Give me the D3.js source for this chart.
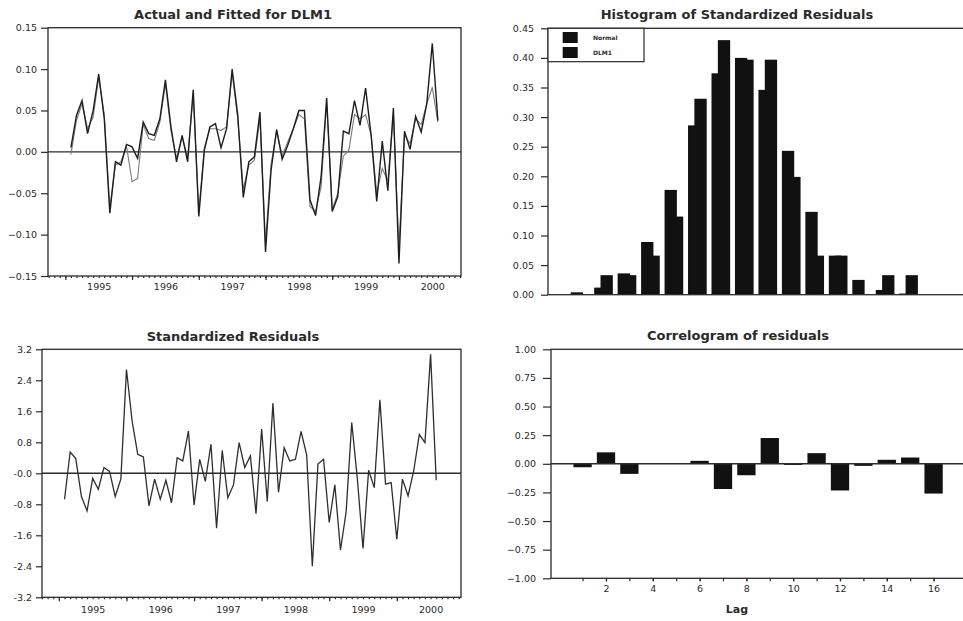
<!DOCTYPE html>
<html>
<head>
<meta charset="utf-8">
<script src="https://cdn.jsdelivr.net/npm/d3@7"></script>
<style>
  html, body { margin: 0; padding: 0; background: #fff; }
  svg { display: block; font-family: "DejaVu Sans", sans-serif; }
</style>
</head>
<body>
<svg id="chart" width="963" height="621"></svg>
<script>
// ---- Monthly series, first observation February 1995 ----
const firstObs = 1995 + 1 / 12;

const actual = [
  0.005, 0.044, 0.062, 0.022, 0.050, 0.094, 0.040, -0.074, -0.012, -0.016,
  0.009, 0.006, -0.008, 0.036, 0.022, 0.020, 0.040, 0.087, 0.030, -0.012,
  0.020, -0.012, 0.075, -0.078, 0.002, 0.030, 0.034, 0.005, 0.028, 0.100,
  0.045, -0.055, -0.012, -0.006, 0.048, -0.121, -0.022, 0.027, -0.009, 0.008,
  0.028, 0.050, 0.050, -0.058, -0.077, -0.030, 0.065, -0.072, -0.054, 0.025,
  0.022, 0.062, 0.032, 0.077, 0.020, -0.060, 0.013, -0.047, 0.053, -0.135,
  0.025, 0.003, 0.043, 0.024, 0.058, 0.131, 0.038
];

const fitted = [
  -0.003, 0.038, 0.058, 0.028, 0.042, 0.090, 0.045, -0.068, -0.016, -0.012,
  0.007, -0.036, -0.032, 0.033, 0.016, 0.014, 0.036, 0.082, 0.025, -0.008,
  0.018, -0.006, 0.070, -0.072, 0.005, 0.028, 0.028, 0.026, 0.030, 0.095,
  0.040, -0.045, -0.016, -0.010, 0.040, -0.110, -0.015, 0.025, -0.005, 0.012,
  0.028, 0.045, 0.040, -0.066, -0.072, -0.042, 0.060, -0.070, -0.050, -0.005,
  0.002, 0.045, 0.040, 0.045, 0.020, -0.050, -0.020, -0.035, 0.045, -0.115,
  0.020, 0.010, 0.040, 0.033, 0.058, 0.078, 0.036
];

const stdResid = [
  -0.67, 0.55, 0.38, -0.60, -0.97, -0.13, -0.41, 0.15, 0.05, -0.60,
  -0.15, 2.68, 1.35, 0.49, 0.42, -0.84, -0.15, -0.67, -0.18, -0.76,
  0.40, 0.32, 1.09, -0.82, 0.36, -0.21, 0.75, -1.42, 0.59, -0.63,
  -0.30, 0.79, 0.15, 0.45, -1.04, 1.14, -0.73, 1.81, -0.49, 0.66,
  0.32, 0.36, 1.08, 0.47, -2.40, 0.24, 0.36, -1.27, -0.30, -1.98,
  -1.00, 1.31, -0.15, -1.94, 0.08, -0.37, 1.90, -0.28, -0.24, -1.70,
  -0.15, -0.58, 0.06, 1.00, 0.79, 3.07, -0.18
];

const yearLabels = [1995, 1996, 1997, 1998, 1999, 2000];
const fitTicks = [-0.15, -0.10, -0.05, 0.00, 0.05, 0.10, 0.15];
const residTicks = [-3.2, -2.4, -1.6, -0.8, 0, 0.8, 1.6, 2.4, 3.2];
const residTickLabels = ["-3.2", "-2.4", "-1.6", "-0.8", "-0.0", "0.8", "1.6", "2.4", "3.2"];

// ---- Histogram of standardized residuals (bin centres) ----
const histBins = [-3.3, -2.85, -2.4, -1.95, -1.5, -1.05, -0.6, -0.15, 0.3, 0.75, 1.2, 1.65, 2.1, 2.55, 3.0];
const normalDensity = [0.004, 0.012, 0.036, 0.089, 0.177, 0.286, 0.374, 0.400, 0.346, 0.243, 0.140, 0.066, 0.025, 0.008, 0.002];
const dlm1Density = [0.000, 0.033, 0.033, 0.066, 0.132, 0.331, 0.430, 0.397, 0.397, 0.199, 0.066, 0.066, 0.000, 0.033, 0.033];
const histTicks = [0, 0.05, 0.10, 0.15, 0.20, 0.25, 0.30, 0.35, 0.40, 0.45];
const legendNames = ["Normal", "DLM1"];

// ---- Residual autocorrelations ----
const lags = [1, 2, 3, 4, 5, 6, 7, 8, 9, 10, 11, 12, 13, 14, 15, 16];
const acf = [-0.030, 0.100, -0.088, 0.004, 0.003, 0.026, -0.220, -0.100, 0.225, -0.010, 0.093, -0.233, -0.018, 0.035, 0.055, -0.260];
const acfTicks = [-1, -0.75, -0.5, -0.25, 0, 0.25, 0.5, 0.75, 1];
const lagLabels = [2, 4, 6, 8, 10, 12, 14, 16];

const svg = d3.select("#chart");
const INK = "#2a2a2a";
const TICK_FONT = 9.5;

function styleAxis(g) {
  g.select(".domain").remove();
  g.selectAll(".tick line").attr("stroke", INK).attr("stroke-width", 1.2);
  g.selectAll(".tick text").attr("fill", INK)
    .attr("font-family", "DejaVu Sans, sans-serif").attr("font-size", TICK_FONT);
  return g;
}

function title(text, cx, baseline) {
  svg.append("text").attr("x", cx).attr("y", baseline)
    .attr("text-anchor", "middle").attr("font-weight", "bold")
    .attr("font-size", 13).attr("fill", INK).text(text);
}

function frame(x0, y0, x1, y1) {
  svg.append("rect").attr("x", x0).attr("y", y0)
    .attr("width", x1 - x0).attr("height", y1 - y0)
    .attr("fill", "none").attr("stroke", INK).attr("stroke-width", 1.3);
}

const obsTime = i => firstObs + i / 12;

// Time axes shared by the two left panels
function timeAxes(x, yBottom, labelPad) {
  const domain = x.domain();
  const months = d3.range(Math.ceil(domain[0] * 12), Math.floor(domain[1] * 12) + 1).map(m => m / 12);
  styleAxis(svg.append("g").attr("transform", `translate(0,${yBottom})`)
    .call(d3.axisBottom(x).tickValues(months).tickSize(2).tickFormat("")));
  styleAxis(svg.append("g").attr("transform", `translate(0,${yBottom})`)
    .call(d3.axisBottom(x).tickValues(yearLabels).tickSize(4).tickFormat("")));
  styleAxis(svg.append("g").attr("transform", `translate(0,${yBottom})`)
    .call(d3.axisBottom(x).tickValues(yearLabels.map(y => y + 0.5))
      .tickSize(0).tickPadding(labelPad).tickFormat((d, i) => yearLabels[i])));
}

// ================= Actual and Fitted =================
{
  const L = 48, R = 461, T = 27.7, B = 276;
  const x = d3.scaleLinear().domain([1994.74, 2000.93]).range([L, R]);
  const y = d3.scaleLinear().domain([-0.15, 0.15]).range([B, T]);

  styleAxis(svg.append("g").attr("transform", `translate(${L},0)`)
    .call(d3.axisLeft(y).tickValues(fitTicks).tickSize(7).tickPadding(4).tickFormat(d3.format(".2f"))));
  timeAxes(x, B, 7.5);

  svg.append("line").attr("x1", L).attr("x2", R).attr("y1", y(0)).attr("y2", y(0))
    .attr("stroke", INK).attr("stroke-width", 1.4);

  const line = d3.line().x((d, i) => x(obsTime(i))).y(d => y(d));
  svg.append("path").datum(fitted).attr("d", line)
    .attr("fill", "none").attr("stroke", "#7a7a7a").attr("stroke-width", 1.1);
  svg.append("path").datum(actual).attr("d", line)
    .attr("fill", "none").attr("stroke", "#1e1e1e").attr("stroke-width", 1.4);

  frame(L, T, R, B);
  title("Actual and Fitted for DLM1", 233, 19);
}

// ================= Standardized Residuals =================
{
  const L = 42, R = 461, T = 349.3, B = 597.3;
  const x = d3.scaleLinear().domain([1994.75, 2000.95]).range([L, R]);
  const y = d3.scaleLinear().domain([-3.2, 3.2]).range([B, T]);

  styleAxis(svg.append("g").attr("transform", `translate(${L},0)`)
    .call(d3.axisLeft(y).tickValues(residTicks).tickSize(6).tickPadding(4)
      .tickFormat((d, i) => residTickLabels[i])));
  timeAxes(x, B, 8.6);

  svg.append("line").attr("x1", L).attr("x2", R).attr("y1", y(0)).attr("y2", y(0))
    .attr("stroke", INK).attr("stroke-width", 1.4);

  const line = d3.line().x((d, i) => x(obsTime(i))).y(d => y(d));
  svg.append("path").datum(stdResid).attr("d", line)
    .attr("fill", "none").attr("stroke", "#2e2e2e").attr("stroke-width", 1.3);

  frame(L, T, R, B);
  title("Standardized Residuals", 233, 341);
}

// ================= Histogram =================
{
  const L = 548, R = 990, T = 28.3, B = 294.7;
  const y = d3.scaleLinear().domain([0, 0.45]).range([B, T]);
  const band = d3.scaleBand().domain(histBins).range([570.7, 917.9])
    .paddingInner(0.205).paddingOuter(0);
  const bw = band.bandwidth() * 0.66;
  const shift = band.bandwidth() - bw;

  styleAxis(svg.append("g").attr("transform", `translate(${L},0)`)
    .call(d3.axisLeft(y).tickValues(histTicks).tickSize(7).tickPadding(7).tickFormat(d3.format(".2f"))));

  svg.append("g").selectAll("rect").data(histBins).join("rect")
    .attr("x", d => band(d)).attr("width", bw)
    .attr("y", (d, i) => y(normalDensity[i]))
    .attr("height", (d, i) => B - y(normalDensity[i]))
    .attr("fill", "#111");
  svg.append("g").selectAll("rect").data(histBins).join("rect")
    .attr("x", d => band(d) + shift).attr("width", bw)
    .attr("y", (d, i) => y(dlm1Density[i]))
    .attr("height", (d, i) => B - y(dlm1Density[i]))
    .attr("fill", "#111");

  frame(L, T, R, B);
  title("Histogram of Standardized Residuals", 737, 18.5);

  // legend
  const lg = svg.append("g");
  lg.append("rect").attr("x", L).attr("y", T).attr("width", 96).attr("height", 33.4)
    .attr("fill", "#fff").attr("stroke", INK).attr("stroke-width", 1.2);
  legendNames.forEach((name, i) => {
    lg.append("rect").attr("x", 562.7).attr("y", 32 + i * 15)
      .attr("width", 15).attr("height", 11).attr("fill", "#111");
    lg.append("text").attr("x", 593).attr("y", 39.8 + i * 15)
      .attr("font-size", 6).attr("font-weight", "bold").attr("fill", INK).text(name);
  });
}

// ================= Correlogram =================
{
  const L = 551, R = 990, T = 349.3, B = 578.3;
  const x = d3.scaleLinear().domain([-0.35, 18.4]).range([L, L + 23.4 * 18.75]);
  const y = d3.scaleLinear().domain([-1, 1]).range([B, T]);
  const barW = 18.3;

  styleAxis(svg.append("g").attr("transform", `translate(${L},0)`)
    .call(d3.axisLeft(y).tickValues(acfTicks).tickSize(8).tickPadding(7).tickFormat(d3.format(".2f"))));
  styleAxis(svg.append("g").attr("transform", `translate(0,${B})`)
    .call(d3.axisBottom(x).tickValues(lags).tickSize(3).tickFormat("")));
  styleAxis(svg.append("g").attr("transform", `translate(0,${B})`)
    .call(d3.axisBottom(x).tickValues(lagLabels).tickSize(3).tickPadding(3.5).tickFormat(d3.format("d"))));

  svg.append("g").selectAll("rect").data(lags).join("rect")
    .attr("x", d => x(d) - barW / 2).attr("width", barW)
    .attr("y", (d, i) => y(Math.max(0, acf[i])))
    .attr("height", (d, i) => Math.abs(y(acf[i]) - y(0)))
    .attr("fill", "#111");

  svg.append("line").attr("x1", L).attr("x2", R).attr("y1", y(0)).attr("y2", y(0))
    .attr("stroke", INK).attr("stroke-width", 1.4);

  frame(L, T, R, B);
  title("Correlogram of residuals", 738, 339.5);

  svg.append("text").attr("x", 737).attr("y", 613)
    .attr("text-anchor", "middle").attr("font-weight", "bold")
    .attr("font-size", 11).attr("fill", INK).text("Lag");
}
</script>
</body>
</html>
